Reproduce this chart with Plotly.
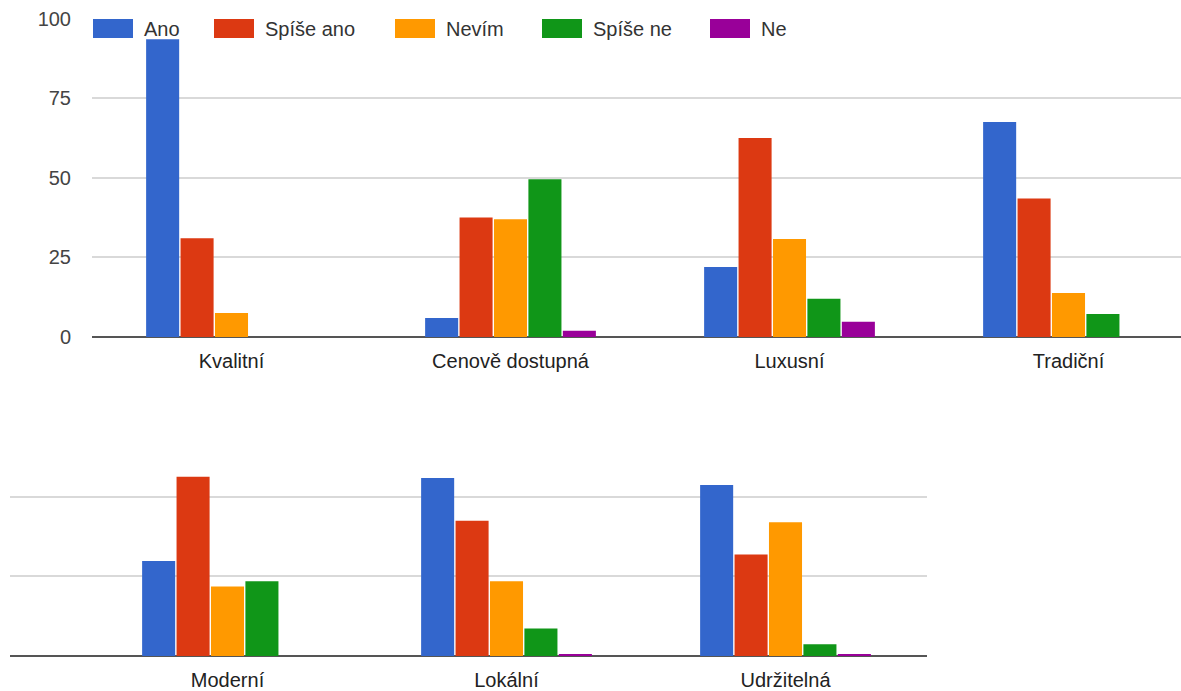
import plotly.graph_objects as go

W, H = 1181, 691

# ---------------- data ----------------
categories = ["Kvalitní", "Cenově dostupná", "Luxusní", "Tradiční",
              "Moderní", "Lokální", "Udržitelná"]
series_names = ["Ano", "Spíše ano", "Nevím", "Spíše ne", "Ne"]
ano       = [93.5, 6.0, 22.0, 67.5, 29.8, 55.9, 53.7]
spise_ano = [31.0, 37.5, 62.5, 43.5, 56.3, 42.5, 31.9]
nevim     = [7.5, 37.0, 30.8, 13.8, 21.8, 23.5, 42.0]
spise_ne  = [0.0, 49.5, 12.0, 7.2, 23.5, 8.6, 3.7]
ne        = [0.0, 2.0, 4.8, 0.0, 0.0, 0.6, 0.6]
y_ticks = [0, 25, 50, 75, 100]
n_top = 4  # categories shown in the first row

series_values = [ano, spise_ano, nevim, spise_ne, ne]
colors = ["#3366cc", "#dc3912", "#ff9900", "#109618", "#990099"]

# ---------------- helpers ----------------
def px_x(x):
    return x / W

def px_y(y):
    return 1 - y / H

FONT = "Liberation Sans, Arial, sans-serif"

fig = go.Figure()
for name, vals, col in zip(series_names, series_values, colors):
    fig.add_trace(go.Bar(x=categories[:n_top], y=vals[:n_top], name=name,
                         marker=dict(color=col, line=dict(width=0)),
                         xaxis="x", yaxis="y", showlegend=False))
    fig.add_trace(go.Bar(x=categories[n_top:], y=vals[n_top:], name=name,
                         marker=dict(color=col, line=dict(width=0)),
                         xaxis="x2", yaxis="y2", showlegend=False))

# pixel geometry of the two charts
top_left, top_zero, top_100 = 92, 337, 18.5
bot_left, bot_right, bot_zero = 10, 927, 656
pitch = 279.0
unit_px = (top_zero - top_100) / 100.0
bot_top_val = 60
bot_top_px = bot_zero - bot_top_val * unit_px
bot_right_val = 2.5 + 2.0 / pitch

fig.update_layout(
    width=W, height=H,
    margin=dict(l=0, r=0, t=0, b=0, autoexpand=False),
    paper_bgcolor="white", plot_bgcolor="white",
    barmode="group", bargap=0.383, bargroupgap=0.04,
    font=dict(family=FONT, size=20, color="#222"),
    xaxis=dict(domain=[px_x(top_left), 1.0], anchor="y", automargin=False,
               range=[-0.5, -0.5 + (W - top_left) / pitch],
               showgrid=False, showline=False, ticks="",
               tickfont=dict(size=20, color="#222"), ticklabelstandoff=10),
    yaxis=dict(domain=[px_y(top_zero), px_y(top_100 - 1)], anchor="x", automargin=False,
               range=[0, 100 + 1 / unit_px],
               tickvals=y_ticks, ticktext=[str(v) for v in y_ticks],
               showgrid=True, gridcolor="#d9d9d9", gridwidth=2,
               zeroline=True, zerolinecolor="#555", zerolinewidth=2,
               showline=False, ticks="",
               tickfont=dict(size=20, color="#444"), ticklabelstandoff=20),
    xaxis2=dict(domain=[px_x(bot_left), px_x(bot_right)], anchor="y2", automargin=False,
                range=[bot_right_val - (bot_right - bot_left) / pitch, bot_right_val],
                showgrid=False, showline=False, ticks="",
                tickfont=dict(size=20, color="#222"), ticklabelstandoff=10),
    yaxis2=dict(domain=[px_y(bot_zero), px_y(bot_top_px)], anchor="x2", automargin=False,
                range=[0, bot_top_val],
                tickvals=[0, 25, 50], showticklabels=False,
                showgrid=True, gridcolor="#d9d9d9", gridwidth=2,
                zeroline=True, zerolinecolor="#555", zerolinewidth=2,
                showline=False, ticks=""),
)

# ---------------- legend (drawn like the original) ----------------
legend_x = [93, 214, 395, 542, 710]
sw_w, sw_top, sw_bot = 40, 19, 38
shapes, annotations = [], []
for name, col, x0 in zip(series_names, colors, legend_x):
    shapes.append(dict(type="rect", xref="paper", yref="paper",
                       x0=px_x(x0), x1=px_x(x0 + sw_w),
                       y0=px_y(sw_bot), y1=px_y(sw_top),
                       fillcolor=col, line=dict(width=0)))
    annotations.append(dict(xref="paper", yref="paper",
                            x=px_x(x0 + sw_w + 9), y=px_y((sw_top + sw_bot) / 2),
                            xanchor="left", yanchor="middle", showarrow=False,
                            text=name, font=dict(size=20, color="#333", family=FONT)))
fig.update_layout(shapes=shapes, annotations=annotations)

fig.write_html("out.html")
